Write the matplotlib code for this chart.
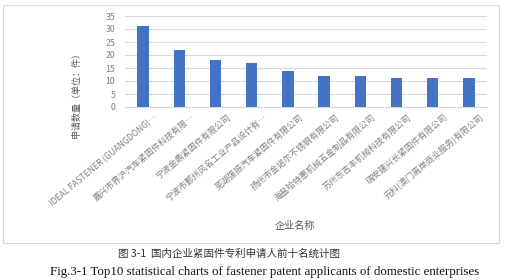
import matplotlib
matplotlib.use("Agg")
import matplotlib.pyplot as plt
import matplotlib.transforms as mtrans
from matplotlib.patches import Rectangle

plt.rcParams['font.family'] = ['Noto Sans CJK SC', 'DejaVu Sans']

companies = [
    "IDEAL FASTENER (GUANGDONG)…",
    "嘉兴市界沪汽车紧固件科技有限…",
    "宁波金鼎紧固件有限公司",
    "宁波市鄞州风名工业产品设计有…",
    "芜湖强振汽车紧固件有限公司",
    "扬州市金诺尔不锈钢有限公司",
    "海盐哈特惠机械五金制品有限公司",
    "苏州东吉丰机械科技有限公司",
    "瑞安建兴长紧固件有限公司",
    "元科(澳门离岸商业服务)有限公司",
]
counts = [31, 22, 18, 17, 14, 12, 12, 11, 11, 11]
y_ticks = [0, 5, 10, 15, 20, 25, 30, 35]

W, H = 517, 280
fig = plt.figure(figsize=(W / 100, H / 100), dpi=100)
fig.patch.set_facecolor("white")

# chart frame
fig.patches.append(Rectangle((3 / W, 1 - 243 / H), 496 / W, 238 / H,
                             transform=fig.transFigure, fill=False,
                             edgecolor="#D9D9D9", linewidth=0.8))

ax = fig.add_axes([125 / W, 1 - 107 / H, 362 / W, 91 / H])
x = range(len(companies))
ax.bar(x, counts, width=0.32, color="#4472C4", zorder=3)
ax.set_xlim(-0.5, len(companies) - 0.5)
ax.set_ylim(0, 35)
ax.set_yticks(y_ticks)
ax.yaxis.grid(True, color="#D9D9D9", linewidth=0.8, zorder=0)
for s in ax.spines.values():
    s.set_visible(False)
ax.spines['bottom'].set_visible(True)
ax.spines['bottom'].set_color("#D9D9D9")
ax.tick_params(axis='y', length=0, labelsize=6.3, labelcolor="#7F7F7F", pad=7)
ax.tick_params(axis='x', length=0, pad=0)
ax.set_xticks(list(x))
ax.set_xticklabels(companies, rotation=40, ha='right', va='center',
                   rotation_mode='anchor', fontsize=6.2, color="#808080")
offset = mtrans.ScaledTranslation(14 / 100, -9 / 100, fig.dpi_scale_trans)
for lbl in ax.get_xticklabels():
    lbl.set_transform(lbl.get_transform() + offset)

fig.text(76 / W, 1 - 93 / H, "申请数量（单位：件）", rotation=90, ha='center',
         va='center', fontsize=6.5, color="#595959")
fig.text(295 / W, 1 - 226 / H, "企业名称", ha='center', va='center',
         fontsize=7.3, color="#595959")

fig.text(118 / W, 1 - 254 / H, "图 3-1  国内企业紧固件专利申请人前十名统计图",
         ha='left', va='center', fontsize=7.6, color="#333333")
fig.text(265 / W, 1 - 272 / H,
         "Fig.3-1 Top10 statistical charts of fastener patent applicants of domestic enterprises",
         ha='center', va='center', fontsize=9.3, color="#111111",
         family="Liberation Serif")

fig.savefig("out.png", dpi=100)
